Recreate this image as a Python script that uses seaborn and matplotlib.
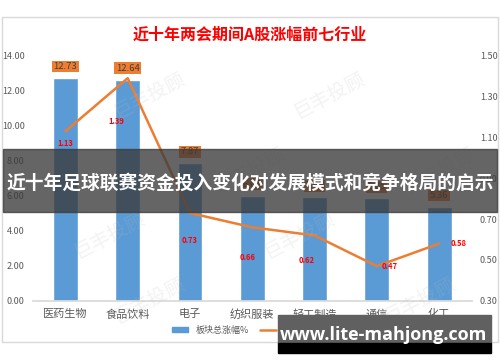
import matplotlib
matplotlib.use('Agg')
import matplotlib.pyplot as plt
import numpy as np
import pandas as pd
import seaborn as sns
from matplotlib.patches import Rectangle
from matplotlib.lines import Line2D

industries = ['医药生物', '食品饮料', '电子', '纺织服装', '轻工制造', '通信', '化工']
total_rise = [12.73, 12.64, 7.87, 6.01, 5.92, 5.85, 5.36]
avg_rise = [1.13, 1.39, 0.73, 0.66, 0.62, 0.47, 0.58]
left_ticks = [0, 2, 4, 6, 8, 10, 12, 14]
right_ticks = [0.30, 0.50, 0.70, 0.90, 1.10, 1.30, 1.50]

title = '近十年两会期间A股涨幅前七行业'
banner = '近十年足球联赛资金投入变化对发展模式和竞争格局的启示'
site = 'www.lite-mahjong.com'

sns.set_theme(style='white')
plt.rcParams['font.family'] = ['Noto Sans CJK SC', 'DejaVu Sans']

blue = '#5B9BD5'
orange = '#ED7D31'
grey = '#595959'

df = pd.DataFrame({'行业': industries, '板块总涨幅%': total_rise, '板块平均%': avg_rise})

fig = plt.figure(figsize=(5, 3.62), dpi=100)
fig.patch.set_facecolor('white')

# outer chart frame
fig.add_artist(Rectangle((2 / 500, 1 - 342 / 362), 496 / 500, 325 / 362,
                         transform=fig.transFigure, fill=False,
                         edgecolor='#d9d9d9', linewidth=1))

ax = fig.add_axes([0.066, 0.169, 0.877, 0.677])
sns.barplot(data=df, x='行业', y='板块总涨幅%', color=blue, width=0.4,
            saturation=1, ax=ax, zorder=2)
ax.set_ylim(0, 14)
ax.set_yticks(left_ticks)
ax.set_yticklabels([f'{v:.2f}' for v in left_ticks], fontsize=6.5, color=grey)
ax.set_xlabel('')
ax.set_ylabel('')
ax.tick_params(axis='x', labelsize=8, colors=grey, length=0, pad=6)
ax.tick_params(axis='y', length=0, pad=6)
for s in ['top', 'left', 'right']:
    ax.spines[s].set_visible(False)
ax.spines['bottom'].set_color('#d9d9d9')

for i, v in enumerate(total_rise):
    ax.annotate(f'{v:.2f}', (i, v), xytext=(0, 5), textcoords='offset points',
                ha='center', va='bottom', fontsize=6.8, color='#404040',
                bbox=dict(boxstyle='square,pad=0.15', fc=orange, ec='none'),
                zorder=5)

ax2 = ax.twinx()
sns.lineplot(x=np.arange(len(industries)), y=avg_rise, color=orange,
             linewidth=1.8, ax=ax2, zorder=4)
ax2.set_ylim(0.3, 1.5)
ax2.set_yticks(right_ticks)
ax2.set_yticklabels([f'{v:.2f}' for v in right_ticks], fontsize=6.5, color=grey)
ax2.tick_params(axis='y', length=0, pad=6)
for s in ['top', 'left', 'right', 'bottom']:
    ax2.spines[s].set_visible(False)

offsets = [(0, -9), (-8, -31), (0, -20), (-3, -22), (-6, -18), (9, 0), (14, 0)]
for i, v in enumerate(avg_rise):
    ax2.annotate(f'{v:.2f}', (i, v), xytext=offsets[i], textcoords='offset points',
                 ha='center', va='center', fontsize=5.5, color='#FF0000',
                 fontweight='bold', zorder=6)

# faint watermarks
for wx, wy in [(150, 95), (330, 95), (110, 235), (300, 235), (150, 300), (420, 300),
               (250, 170), (440, 170)]:
    fig.text(wx / 500, 1 - wy / 362, '巨丰投顾', fontsize=14, color='#bbbbbb',
             alpha=0.18, rotation=28, ha='center', va='center')

fig.text(0.5, 1 - 35 / 362, title, ha='center', va='center', fontsize=11.5,
         color='#FF0000', fontweight='bold')

handles = [Rectangle((0, 0), 1, 1, color=blue), Line2D([0], [0], color=orange, lw=1.8)]
fig.legend(handles, ['板块总涨幅%', '板块平均%'], loc='center',
           bbox_to_anchor=(0.5, 1 - 330 / 362), ncol=2, frameon=False,
           fontsize=6.5, handlelength=1.8, handleheight=0.6, columnspacing=1.2,
           labelcolor=grey)

# overlay banner
fig.add_artist(Rectangle((3 / 500, 1 - 212 / 362), 494 / 500, 63 / 362,
                         transform=fig.transFigure, color='#3a3a3a', alpha=0.78,
                         zorder=10))
fig.text(0.5, 1 - 183 / 362, banner, ha='center', va='center', fontsize=13.5,
         color='white', fontweight='bold', zorder=11)

# site box
fig.add_artist(Rectangle((278 / 500, 1 - 343 / 362), 213 / 500, 28 / 362,
                         transform=fig.transFigure, color='#606060', zorder=10))
fig.add_artist(Rectangle((278 / 500, 1 - 353 / 362), 213 / 500, 10 / 362,
                         transform=fig.transFigure, color='black', zorder=10))
fig.text(384 / 500, 1 - 335 / 362, site, ha='center', va='center', fontsize=13,
         color='white', fontweight='bold', family=['Open Sans', 'DejaVu Sans'],
         zorder=11)

fig.savefig('out.png', dpi=100)
